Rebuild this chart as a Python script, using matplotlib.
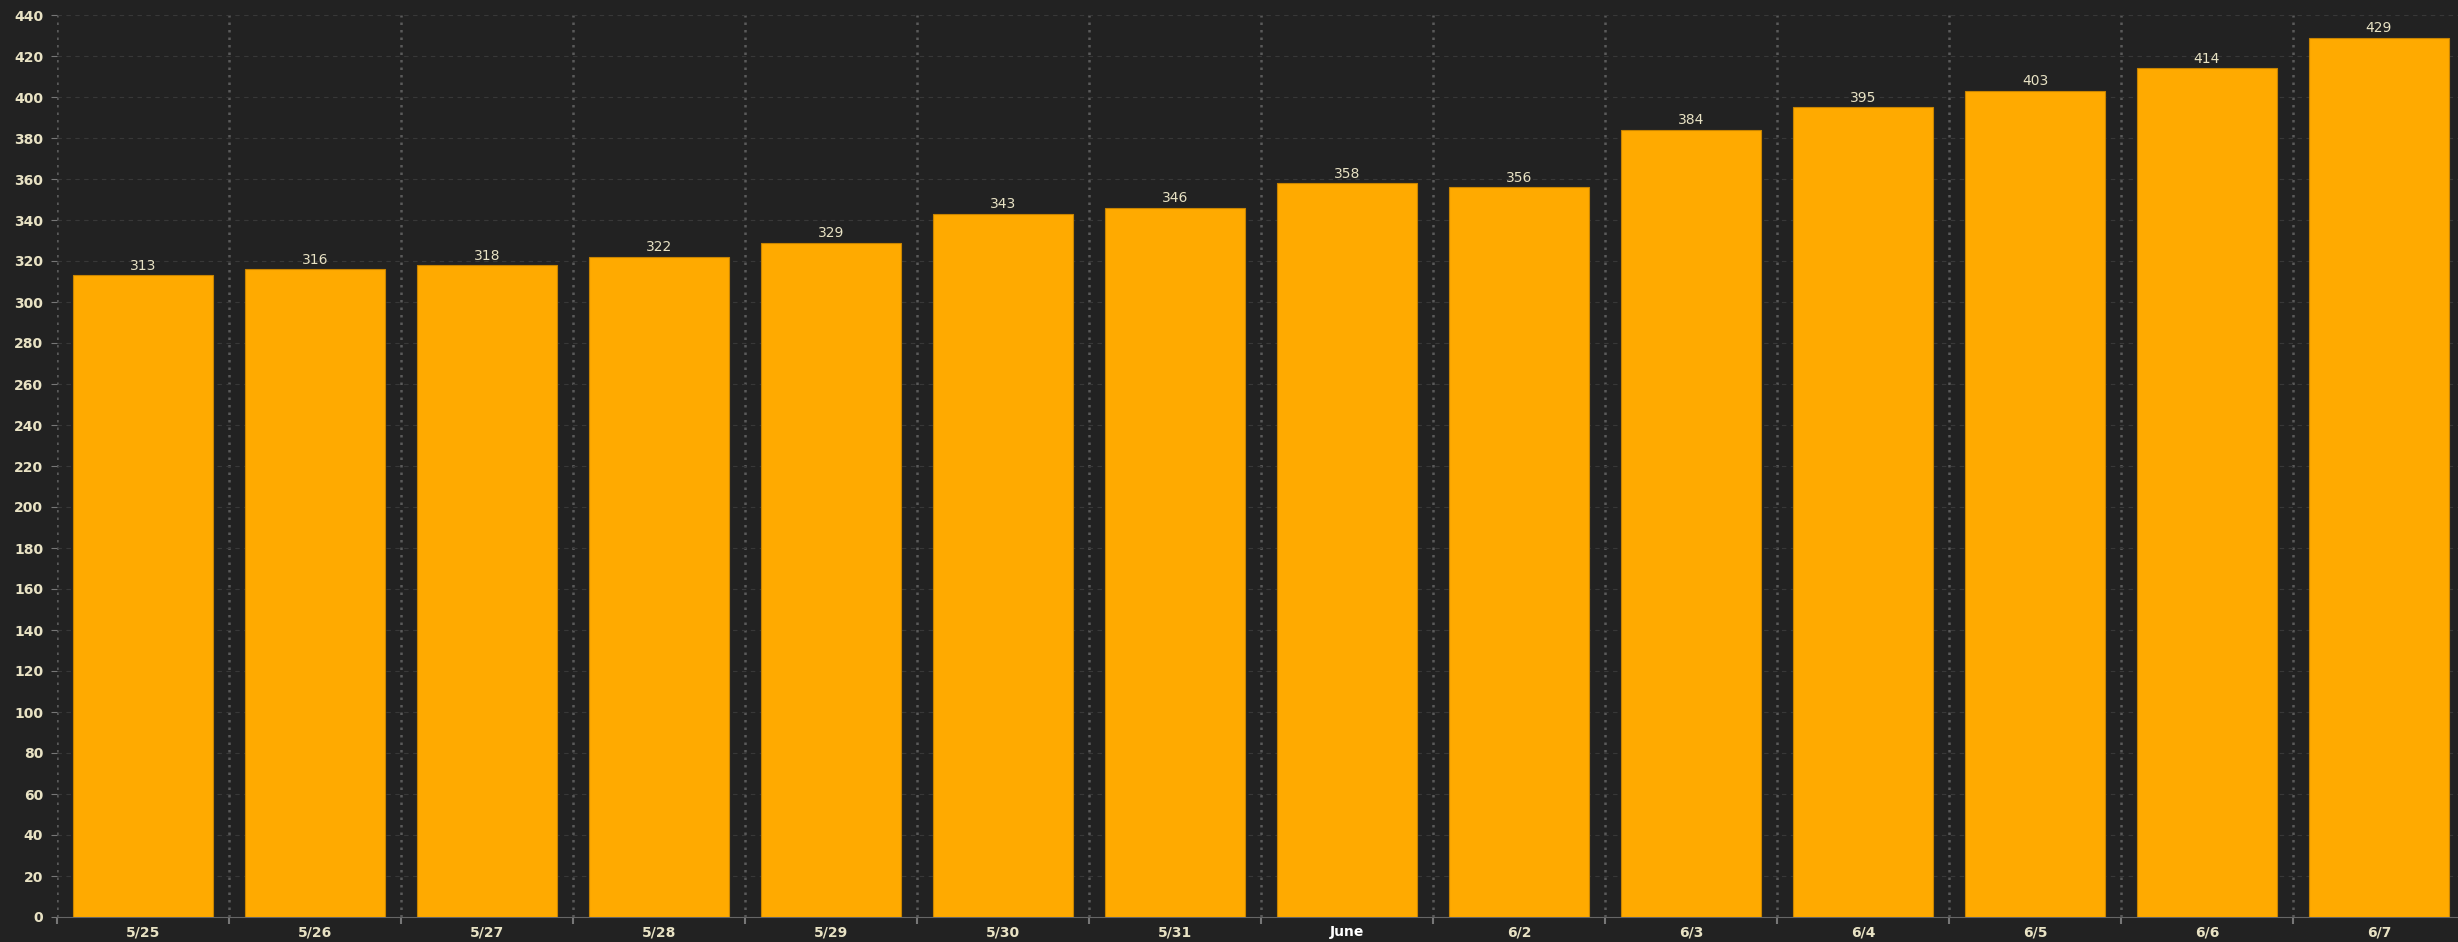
import matplotlib
matplotlib.use("Agg")
import matplotlib.pyplot as plt
import numpy as np

# data
dates = ["5/25", "5/26", "5/27", "5/28", "5/29", "5/30", "5/31", "June",
         "6/2", "6/3", "6/4", "6/5", "6/6", "6/7"]
values = [313, 316, 318, 322, 329, 343, 346, 358, 356, 384, 395, 403, 414, 429]
yticks = list(range(0, 441, 20))

bg = "#222222"
bar_c = "#FFAA00"
txt_c = "#E8E2C4"

fig = plt.figure(figsize=(24.58, 9.42), dpi=100, facecolor=bg)
ax = fig.add_axes([57 / 2458, 1 - 917 / 942, (2465 - 57) / 2458, (917 - 15) / 942])
ax.set_facecolor(bg)

x = np.arange(len(dates))
bars = ax.bar(x, values, width=0.81, color=bar_c, edgecolor="#C88400", linewidth=0.8, zorder=3)

for xi, v in zip(x, values):
  ax.text(xi, v + 1.2, str(v), ha="center", va="bottom", color=txt_c, fontsize=10, zorder=4)

ax.set_xlim(-0.5, len(dates) - 0.5)
ax.set_ylim(0, 440)
ax.set_yticks(yticks)
ax.set_yticklabels([str(t) for t in yticks], color=txt_c, fontsize=10, fontweight="semibold")

# x labels at centers, ticks/grid at category boundaries
ax.set_xticks(x)
ax.set_xticklabels(dates, fontsize=10, fontweight="semibold", color=txt_c)
for lab in ax.get_xticklabels():
  if lab.get_text() == "June":
    lab.set_color("white")
    lab.set_fontweight("bold")
ax.tick_params(axis="x", length=0, pad=6)
ax.set_xticks(np.arange(-0.5, len(dates)), minor=True)
ax.tick_params(axis="x", which="minor", length=5, color="#777777", width=1.5)
ax.tick_params(axis="y", length=4, color="#777777", pad=6)

ax.grid(axis="y", color="#383838", linestyle=(0, (4, 4)), linewidth=0.8, zorder=0)
for b in np.arange(-0.5, len(dates)):
  ax.axvline(b, color="#5a5a5a", linestyle=(0, (1, 2)), linewidth=1.8, zorder=1)

for s in ["top", "right"]:
  ax.spines[s].set_visible(False)
ax.spines["left"].set_visible(False)
ax.spines["bottom"].set_color("#666666")

fig.savefig("out.png", dpi=100, facecolor=bg)
